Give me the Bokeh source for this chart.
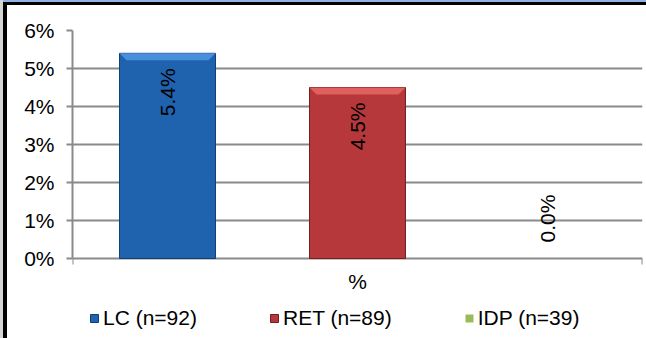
from bokeh.plotting import figure
from bokeh.models import (ColumnDataSource, Legend, LegendItem, FixedTicker,
                          InlineStyleSheet)
from bokeh.embed import file_html
from bokeh.resources import INLINE
import math

# ---- data ----
category = "%"
series = ["LC (n=92)", "RET (n=89)", "IDP (n=39)"]
values = [5.4, 4.5, 0.0]
y_ticks = [0, 1, 2, 3, 4, 5, 6]
y_tick_labels = ["0%", "1%", "2%", "3%", "4%", "5%", "6%"]

fills = ["#1F63AF", "#B7383A", "#9BBB59"]
bevels = ["#4A8FDC", "#E0605F", "#C3DB80"]
edges = ["#123F73", "#6E1F1F", "#5F7530"]

FONT = "Liberation Sans"
FS = "21px"
GRID = "#8A8A8A"
n = len(series)
xs = [i + 0.5 for i in range(n)]
bar_w = 0.505

px_x = 190.0   # pixels per x unit
px_y = 38.0    # pixels per y unit
below_px = 80  # room under the zero line for the category label and legend

p = figure(width=646, height=338, output_backend="svg", toolbar_location=None,
           x_range=(0, n), y_range=(-below_px / px_y, max(y_ticks)),
           x_axis_location=None,
           min_border_left=72, min_border_right=4, min_border_top=30,
           min_border_bottom=0)
p.border_fill_color = None
p.background_fill_color = None
p.outline_line_color = None
p.stylesheets = [InlineStyleSheet(css=(
    ":host { background: white; box-shadow: inset 3px 0 0 0 #D4D4D4, "
    "inset 0 2px 0 0 #8FB4E3, inset 7px 5px 0 0 #000000; }"))]

p.xgrid.grid_line_color = None
p.ygrid.ticker = FixedTicker(ticks=y_ticks)
p.ygrid.grid_line_color = GRID
p.ygrid.grid_line_width = 2

ya = p.yaxis[0]
ya.ticker = FixedTicker(ticks=y_ticks)
ya.bounds = (min(y_ticks), max(y_ticks))
ya.major_label_overrides = {t: l for t, l in zip(y_ticks, y_tick_labels)}
ya.major_label_text_font = FONT
ya.major_label_text_font_size = FS
ya.major_label_text_color = "#000000"
ya.axis_line_color = GRID
ya.axis_line_width = 2
ya.major_tick_line_color = GRID
ya.major_tick_line_width = 2
ya.major_tick_out = 6
ya.major_tick_in = 0
ya.minor_tick_line_color = None
ya.major_label_standoff = 12

# category-boundary tick marks under the zero line
p.segment(x0=[0, n], y0=[0, 0], x1=[0, n], y1=[-6 / px_y, -6 / px_y],
          line_color=GRID, line_width=2)
# category label
p.text(x=[n / 2], y=[0], text=[category], y_offset=23, text_align="center",
       text_baseline="middle", text_font_size=FS,
       text_font={"value": FONT}, text_color="#000000")

items = []
for i in range(n):
    src = ColumnDataSource(dict(x=[xs[i]], top=[values[i]]))
    r = p.vbar(x="x", top="top", bottom=0, width=bar_w, source=src,
               fill_color=fills[i],
               line_color=edges[i] if values[i] > 0 else None, line_width=1)
    items.append(LegendItem(label=series[i], renderers=[r]))
    if values[i] > 0:
        d = 7 / px_x
        h = min(7 / px_y, values[i])
        l, rr, t = xs[i] - bar_w / 2, xs[i] + bar_w / 2, values[i]
        p.patch([l, rr, rr - d, l + d], [t, t, t - h, t - h],
                fill_color=bevels[i], line_color=None)

labels = [f"{v:.1f}%" for v in values]
pos_x = [xs[i] for i in range(n) if values[i] > 0]
pos_y = [values[i] for i in range(n) if values[i] > 0]
pos_t = [labels[i] for i in range(n) if values[i] > 0]
p.text(x=pos_x, y=pos_y, text=pos_t, angle=math.pi / 2, text_align="right",
       text_baseline="middle", y_offset=15, text_font_size=FS,
       text_font={"value": FONT}, text_color="#000000")
zx = [xs[i] for i in range(n) if values[i] == 0]
zy = [values[i] for i in range(n) if values[i] == 0]
zt = [labels[i] for i in range(n) if values[i] == 0]
p.text(x=zx, y=zy, text=zt, angle=math.pi / 2, text_align="left",
       text_baseline="middle", y_offset=-16, text_font_size=FS,
       text_font={"value": FONT}, text_color="#000000")

legend = Legend(items=items, orientation="horizontal", location=(17, 8),
                glyph_width=10, glyph_height=10, label_standoff=4, spacing=72,
                padding=0, margin=0, border_line_color=None,
                background_fill_color=None, background_fill_alpha=0,
                label_text_font=FONT, label_text_font_size=FS,
                label_text_color="#000000")
p.add_layout(legend, "center")

open("out.html", "w").write(file_html(p, INLINE))
